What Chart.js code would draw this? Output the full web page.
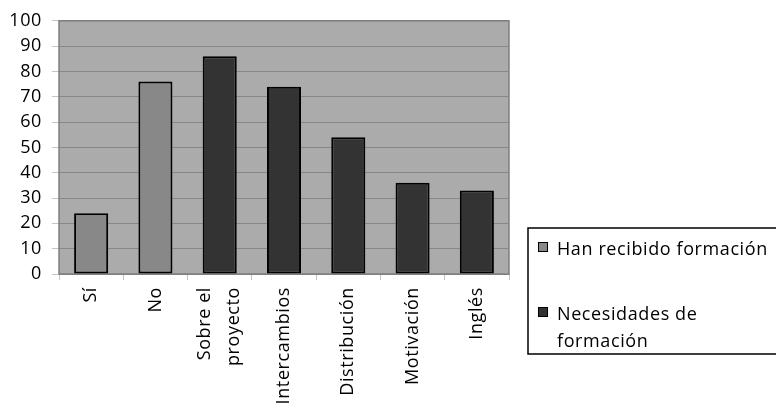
<!DOCTYPE html>
<html>
<head>
<meta charset="utf-8">
<style>
  html, body { margin: 0; padding: 0; background: #ffffff; overflow: hidden; width: 776px; height: 410px; }
  canvas { display: block; width: 776px; height: 410px; }
</style>
<script src="https://cdn.jsdelivr.net/npm/chart.js@4/dist/chart.umd.min.js"></script>
</head>
<body>
<canvas id="chart" width="776" height="410"></canvas>
<script>
// Categories along the x axis (multi-line labels are given as arrays)
const categories = ['Sí', 'No', ['Sobre el', 'proyecto'], 'Intercambios', 'Distribución', 'Motivación', 'Inglés'];

// Series names
const seriesNames = ['Han recibido formación', 'Necesidades de formación'];

// Values (%): the first two categories belong to the first series, the rest to the second
const receivedTraining = [24, 76];
const trainingNeeds = [86, 74, 54, 36, 33];

// Y axis tick values
const yTicks = [0, 10, 20, 30, 40, 50, 60, 70, 80, 90, 100];

const FONT_FAMILY = "'Open Sans', 'DejaVu Sans', sans-serif";
const FONT_SIZE = 18;
const X_LINE_HEIGHT = 1.6;
const SPACING = '0.6px';

// Each series fills only its own categories; the others stay empty
const receivedData = categories.map((_, i) => i < receivedTraining.length ? receivedTraining[i] : null);
const needsData = categories.map((_, i) => i >= receivedTraining.length ? trainingNeeds[i - receivedTraining.length] : null);

// Slightly spaced lettering for every text on the canvas
const letterSpacing = {
  id: 'letterSpacing',
  beforeLayout(chart) { chart.ctx.letterSpacing = SPACING; },
  beforeDraw(chart) { chart.ctx.letterSpacing = SPACING; }
};

// Rotated multi-line x labels: center the block of lines on the tick
const centerMultiline = {
  id: 'centerMultiline',
  beforeDraw(chart) {
    chart.scales.x.getLabelItems().forEach(item => {
      if (Array.isArray(item.label) && !item.centered) {
        item.options.translation[0] -= (item.label.length - 1) * item.font.lineHeight / 2;
        item.centered = true;
      }
    });
  }
};

// Grey plot background and frame
const plotFrame = {
  id: 'plotFrame',
  beforeDraw(chart) {
    const { ctx, chartArea: a } = chart;
    ctx.save();
    ctx.fillStyle = '#ffffff';
    ctx.fillRect(0, 0, chart.width, chart.height);
    ctx.fillStyle = '#ababab';
    ctx.fillRect(a.left, a.top, a.right - a.left, a.bottom - a.top);
    ctx.restore();
  },
  beforeDatasetsDraw(chart) {
    const { ctx, chartArea: a } = chart;
    ctx.save();
    ctx.strokeStyle = '#7f7f7f';
    ctx.lineWidth = 1.5;
    ctx.strokeRect(a.left, a.top, a.right - a.left, a.bottom - a.top);
    ctx.restore();
  }
};

// Framed legend to the right of the plot, running past the right edge
const boxedLegend = {
  id: 'boxedLegend',
  afterDraw(chart, args, opts) {
    const ctx = chart.ctx;
    ctx.save();
    ctx.letterSpacing = SPACING;
    ctx.strokeStyle = '#000000';
    ctx.lineWidth = 1.5;
    ctx.strokeRect(opts.left, opts.top, 1000, opts.bottom - opts.top);
    ctx.font = opts.font;
    ctx.textBaseline = 'alphabetic';
    ctx.textAlign = 'left';
    chart.data.datasets.forEach((ds, i) => {
      const top = opts.itemTops[i];
      ctx.fillStyle = ds.backgroundColor;
      ctx.fillRect(opts.swatchX, top, opts.swatchSize, opts.swatchSize);
      ctx.lineWidth = 1;
      ctx.strokeStyle = '#000000';
      ctx.strokeRect(opts.swatchX + 0.5, top + 0.5, opts.swatchSize - 1, opts.swatchSize - 1);
      // greedy word wrap
      const words = ds.label.split(' ');
      const lines = [];
      let line = '';
      words.forEach(w => {
        const test = line ? line + ' ' + w : w;
        if (line && ctx.measureText(test).width > opts.maxTextWidth) {
          lines.push(line);
          line = w;
        } else {
          line = test;
        }
      });
      if (line) lines.push(line);
      ctx.fillStyle = '#000000';
      lines.forEach((ln, k) => ctx.fillText(ln, opts.textX, top + opts.baselineOffset + k * opts.lineHeight));
    });
    ctx.restore();
  }
};

new Chart(document.getElementById('chart'), {
  type: 'bar',
  data: {
    labels: categories,
    datasets: [
      {
        label: seriesNames[0],
        data: receivedData,
        backgroundColor: '#888888',
        borderColor: '#000000',
        borderWidth: 2,
        borderSkipped: false
      },
      {
        label: seriesNames[1],
        data: needsData,
        backgroundColor: '#333333',
        borderColor: '#000000',
        borderWidth: 2,
        borderSkipped: false
      }
    ]
  },
  options: {
    responsive: false,
    animation: false,
    devicePixelRatio: 1,
    grouped: false,
    barPercentage: 0.53,
    categoryPercentage: 1,
    layout: { padding: { left: 0, right: 267, top: 17, bottom: 0 } },
    plugins: {
      legend: { display: false },
      tooltip: { enabled: false },
      boxedLegend: {
        left: 528, top: 228, bottom: 354,
        swatchX: 538, swatchSize: 10, itemTops: [242, 307],
        textX: 557, baselineOffset: 13, lineHeight: 26.5,
        maxTextWidth: 216,
        font: FONT_SIZE + "px " + FONT_FAMILY
      }
    },
    scales: {
      x: {
        offset: true,
        border: { display: false },
        grid: {
          display: true,
          drawOnChartArea: false,
          offset: true,
          tickLength: 6,
          tickColor: '#c4c4c4',
          tickWidth: 1
        },
        ticks: {
          autoSkip: false,
          minRotation: 90,
          maxRotation: 90,
          padding: 7,
          color: '#000000',
          font: { family: FONT_FAMILY, size: FONT_SIZE, lineHeight: X_LINE_HEIGHT }
        },
        afterFit(scale) { scale.height = 136; }
      },
      y: {
        min: 0,
        max: 100,
        border: { display: false },
        grid: {
          color: '#878787',
          lineWidth: 1,
          tickLength: 7,
          tickColor: '#c4c4c4'
        },
        ticks: {
          padding: 10,
          color: '#000000',
          font: { family: FONT_FAMILY, size: FONT_SIZE }
        },
        afterBuildTicks(scale) { scale.ticks = yTicks.map(v => ({ value: v })); },
        afterFit(scale) { scale.width = 59; }
      }
    }
  },
  plugins: [letterSpacing, centerMultiline, plotFrame, boxedLegend]
});
</script>
</body>
</html>
